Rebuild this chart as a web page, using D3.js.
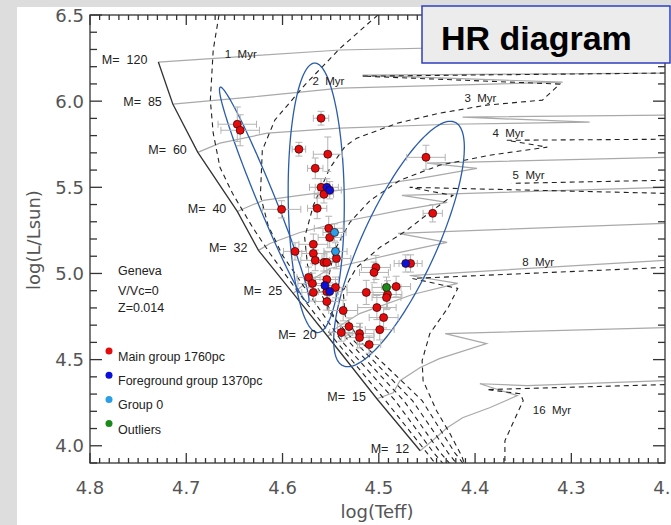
<!DOCTYPE html>
<html><head><meta charset="utf-8">
<script src="https://cdn.jsdelivr.net/npm/d3@7/dist/d3.min.js"></script>
<style>body{margin:0;background:#fff}svg{display:block}</style>
</head><body>
<svg id="c" width="671" height="525"></svg>
<script>
// ---------- DATA ----------
const xTickLabels = [4.8, 4.7, 4.6, 4.5, 4.4, 4.3, 4.2];
const yTickLabels = [4.0, 4.5, 5.0, 5.5, 6.0, 6.5];

// ZAMS points (logTeff, logL) and masses
const zams = [[4.729,6.227],[4.714,5.983],[4.688,5.703],[4.647,5.360],[4.625,5.134],[4.589,4.884],[4.553,4.634],[4.502,4.273],[4.457,3.971]];
const zamsMass = ["120","85","60","40","32","25","20","15","12"];

// evolutionary tracks
const track120 = [[4.729,6.227],[4.540,6.297],[4.203,6.337]];
const track85 = [[4.714,5.983],[4.623,6.029],[4.540,6.076],[4.309,6.110],[4.517,6.151],[4.203,6.163]];
const track60 = [[4.688,5.703],[4.665,5.756],[4.616,5.814],[4.540,5.843],[4.426,5.866],[4.281,5.878],[4.413,5.907],[4.203,5.919]];
const track40 = [[4.647,5.360],[4.637,5.384],[4.620,5.424],[4.582,5.453],[4.540,5.483],[4.457,5.552],[4.398,5.610],[4.450,5.640],[4.203,5.674]];
const track32 = [[4.625,5.134],[4.613,5.174],[4.582,5.238],[4.540,5.297],[4.478,5.366],[4.429,5.413],[4.476,5.453],[4.203,5.500]];
const track25 = [[4.589,4.884],[4.579,4.930],[4.551,5.029],[4.478,5.122],[4.429,5.180],[4.480,5.233],[4.203,5.291]];
const track20 = [[4.553,4.634],[4.545,4.680],[4.520,4.767],[4.465,4.878],[4.418,4.942],[4.468,4.988],[4.203,5.076]];
const track15 = [[4.502,4.273],[4.485,4.308],[4.478,4.378],[4.457,4.454],[4.437,4.506],[4.388,4.593],[4.431,4.651],[4.203,4.686]];
const track12 = [[4.457,3.971],[4.442,4.041],[4.429,4.105],[4.413,4.163],[4.385,4.221],[4.356,4.291],[4.395,4.360],[4.346,4.349],[4.203,4.378]];

// isochrones
const iso1 = [[4.666,6.500],[4.672,6.297],[4.675,6.006],[4.672,5.814],[4.665,5.616],[4.652,5.465],[4.631,5.267],[4.613,5.116],[4.585,4.901],[4.545,4.610],[4.493,4.262],[4.450,3.959],[4.441,3.895]];
const iso2 = [[4.501,6.500],[4.540,6.308],[4.577,6.093],[4.608,5.890],[4.621,5.715],[4.623,5.453],[4.615,5.279],[4.600,5.105],[4.575,4.901],[4.539,4.610],[4.483,4.262],[4.443,3.959],[4.433,3.895]];
const iso3 = [[4.203,6.163],[4.517,6.145],[4.312,6.099],[4.330,6.006],[4.388,5.977],[4.437,5.930],[4.481,5.872],[4.523,5.785],[4.535,5.738],[4.551,5.610],[4.568,5.395],[4.577,5.209],[4.574,5.047],[4.561,4.890],[4.532,4.610],[4.474,4.262],[4.436,3.959],[4.426,3.895]];
const iso4 = [[4.203,5.779],[4.367,5.773],[4.325,5.733],[4.385,5.686],[4.437,5.628],[4.478,5.541],[4.509,5.424],[4.530,5.297],[4.546,5.134],[4.553,4.959],[4.553,4.785],[4.526,4.610],[4.465,4.262],[4.428,3.959],[4.419,3.895]];
const iso5a = [[4.203,5.541],[4.362,5.523]];
const iso5 = [[4.203,5.465],[4.468,5.500],[4.423,5.453],[4.447,5.355],[4.471,5.250],[4.499,5.151],[4.523,5.035],[4.537,4.901],[4.535,4.756],[4.520,4.610],[4.455,4.262],[4.421,3.959],[4.412,3.895]];
const iso8 = [[4.203,5.035],[4.465,4.971],[4.418,4.913],[4.428,4.802],[4.447,4.651],[4.455,4.494],[4.454,4.378],[4.440,4.203],[4.426,4.070],[4.414,3.942],[4.411,3.895]];
const iso16 = [[4.203,4.355],[4.388,4.326],[4.353,4.302],[4.350,4.262],[4.361,4.128],[4.369,4.029],[4.369,3.895]];
const isoLabels = [["1 Myr",4.660,6.250],["2 Myr",4.569,6.093],["3 Myr",4.411,5.994],["4 Myr",4.382,5.791],["5 Myr",4.361,5.547],["8 Myr",4.351,5.041],["16 Myr",4.340,4.186]];

// selection ellipses: centre, half major-axis vector, half minor-axis vector (data units)
const ellipseCentres = [[4.619,5.456],[4.565,5.439],[4.479,5.171]];
const ellipseMajor = [[-0.0457,-0.625],[-0.0016,-0.782],[-0.0582,0.7064]];
const ellipseMinor = [[-0.0086,0.0198],[-0.0291,0.0017],[-0.0349,-0.0901]];

// stars: logTeff, logL, err logTeff, err logL
const mainGroup = [
[4.647,5.866,.02,.10],[4.644,5.831,.02,.09],[4.560,5.901,.008,.04],[4.583,5.721,.007,.04],
[4.553,5.692,.015,.10],[4.566,5.610,.008,.06],[4.560,5.500,.012,.05],[4.557,5.459,.01,.05],
[4.564,5.378,.01,.06],[4.601,5.372,.02,.05],[4.552,5.262,.015,.07],[4.551,5.209,.012,.06],
[4.568,5.169,.015,.06],[4.587,5.128,.012,.05],[4.568,5.116,.012,.06],[4.566,5.076,.015,.06],
[4.557,5.064,.012,.05],[4.554,5.064,.012,.06],[4.544,5.087,.015,.06],[4.573,4.977,.012,.06],
[4.554,4.965,.012,.05],[4.569,4.942,.015,.06],[4.554,4.895,.012,.06],[4.545,4.919,.012,.06],
[4.568,4.890,.012,.05],[4.554,4.837,.012,.05],[4.537,4.785,.015,.06],[4.531,4.692,.012,.05],
[4.539,4.657,.012,.05],[4.520,4.651,.015,.06],[4.520,4.628,.015,.06],[4.510,4.587,.012,.05],
[4.499,4.674,.015,.06],[4.503,5.035,.015,.07],[4.505,5.006,.015,.06],[4.467,5.058,.012,.05],
[4.482,4.924,.015,.06],[4.513,4.890,.02,.07],[4.491,4.878,.015,.08],[4.492,4.860,.015,.07],
[4.502,4.802,.02,.07],[4.495,4.744,.015,.06],[4.451,5.674,.02,.07],[4.444,5.349,.01,.05]];
const foreground = [[4.554,5.500,.012,.05],[4.551,5.483,.012,.05],[4.556,4.930,.012,.05],[4.551,4.895,.012,.05],[4.472,5.058,.012,.05]];
const group0 = [[4.546,5.238,.012,.05],[4.545,5.128,.012,.05]];
const outliers = [[4.492,4.919,.015,.06]];

const legendLabels = ["Main group 1760pc","Foreground group 1370pc","Group 0","Outliers"];
const modelLines = ["Geneva","V/Vc=0","Z=0.014"];
const titleText = "HR diagram";

// ---------- DRAW ----------
const svg = d3.select("#c");
const W = 671, H = 525;
const L = 90, R = 665, T = 15, B = 463;
const x = d3.scaleLinear().domain([4.8, 4.2027]).range([L, R]);
const y = d3.scaleLinear().domain([3.9, 6.5]).range([B, T]);

svg.append("rect").attr("width", W).attr("height", H).attr("fill", "#dddddd");
svg.append("rect").attr("x", 17).attr("y", 7).attr("width", W - 17).attr("height", H - 7).attr("fill", "#ffffff");

svg.append("clipPath").attr("id", "clip").append("rect").attr("x", L).attr("y", T).attr("width", R - L).attr("height", B - T);
const plot = svg.append("g").attr("clip-path", "url(#clip)");
const line = d3.line().x(d => x(d[0])).y(d => y(d[1]));

// tracks
[track120, track85, track60, track40, track32, track25, track20, track15, track12].forEach(t => {
  plot.append("path").attr("d", line(t)).attr("fill", "none").attr("stroke", "#a9a9a9").attr("stroke-width", 1.2);
});
// ZAMS
plot.append("path").attr("d", line(zams)).attr("fill", "none").attr("stroke", "#333").attr("stroke-width", 1.3);
// isochrones
[iso1, iso2, iso3, iso4, iso5a, iso5, iso8, iso16].forEach(t => {
  plot.append("path").attr("d", line(t)).attr("fill", "none").attr("stroke", "#222")
    .attr("stroke-width", 1.1).attr("stroke-dasharray", "5,4");
});
// ellipses
ellipseCentres.forEach((c, i) => {
  const a = ellipseMajor[i], b = ellipseMinor[i];
  const pts = d3.range(0, 2 * Math.PI + 0.001, Math.PI / 90).map(t =>
    [c[0] + a[0] * Math.cos(t) + b[0] * Math.sin(t), c[1] + a[1] * Math.cos(t) + b[1] * Math.sin(t)]);
  plot.append("path").attr("d", line(pts) + "Z").attr("fill", "none").attr("stroke", "#2a5caa").attr("stroke-width", 1.3);
});

// error bars
const groups = [[mainGroup, "#e30b0b"], [foreground, "#0a10d8"], [group0, "#2a9ee6"], [outliers, "#1a8a1a"]];
const eb = plot.append("g").attr("stroke", "#b4b4b4").attr("stroke-width", 1);
groups.forEach(([arr]) => arr.forEach(d => {
  const cx = x(d[0]), cy = y(d[1]);
  const x1 = x(d[0] - d[2]), x2 = x(d[0] + d[2]);
  const y1 = y(d[1] - d[3]), y2 = y(d[1] + d[3]);
  eb.append("line").attr("x1", x1).attr("x2", x2).attr("y1", cy).attr("y2", cy);
  eb.append("line").attr("x1", cx).attr("x2", cx).attr("y1", y1).attr("y2", y2);
  [x1, x2].forEach(v => eb.append("line").attr("x1", v).attr("x2", v).attr("y1", cy - 3.5).attr("y2", cy + 3.5));
  [y1, y2].forEach(v => eb.append("line").attr("x1", cx - 3.5).attr("x2", cx + 3.5).attr("y1", v).attr("y2", v));
}));
groups.forEach(([arr, col]) => {
  plot.append("g").selectAll("circle").data(arr).join("circle")
    .attr("cx", d => x(d[0])).attr("cy", d => y(d[1])).attr("r", 4)
    .attr("fill", col).attr("stroke", "#300").attr("stroke-width", 0.7);
});

// labels
const lab = svg.append("g").attr("font-family", "Liberation Sans, Arial, sans-serif").attr("fill", "#222");
zams.forEach((d, i) => {
  lab.append("text").attr("x", x(d[0]) - 11).attr("y", y(d[1]) + 2).attr("text-anchor", "end")
    .attr("font-size", 12.5).style("white-space", "pre").text("M=  " + zamsMass[i]);
});
isoLabels.forEach(d => {
  lab.append("text").attr("x", x(d[1])).attr("y", y(d[2])).attr("font-size", 11.5).style("white-space", "pre")
    .text(d[0].replace(" ", "  "));
});
modelLines.forEach((t, i) => {
  lab.append("text").attr("x", 118).attr("y", [275, 295, 312][i]).attr("font-size", 12.5).text(t);
});
legendLabels.forEach((t, i) => {
  lab.append("circle").attr("cx", 109).attr("cy", 351 + 24.2 * i).attr("r", 3.5).attr("fill", groups[i][1]);
  lab.append("text").attr("x", 118).attr("y", 361 + 24.2 * i).attr("font-size", 12.5).text(t);
});

// frame and ticks
const ax = svg.append("g").attr("stroke", "#333").attr("stroke-width", 1.3);
ax.append("rect").attr("x", L).attr("y", T).attr("width", R - L).attr("height", B - T).attr("fill", "none");
const xMinor = d3.range(420, 481).map(v => v / 100).filter(v => x(v) >= L - 0.1 && x(v) <= R + 0.1);
const yMinor = d3.range(39, 66).map(v => v / 10);
xMinor.forEach(v => {
  const major = Math.abs(v * 10 - Math.round(v * 10)) < 1e-6;
  const len = major ? 10 : 5;
  ax.append("line").attr("x1", x(v)).attr("x2", x(v)).attr("y1", B).attr("y2", B - len);
  ax.append("line").attr("x1", x(v)).attr("x2", x(v)).attr("y1", T).attr("y2", T + len);
});
yMinor.forEach(v => {
  const major = Math.abs(v * 2 - Math.round(v * 2)) < 1e-6;
  const len = major ? 12 : 7;
  ax.append("line").attr("x1", L).attr("x2", L + len).attr("y1", y(v)).attr("y2", y(v));
  ax.append("line").attr("x1", R).attr("x2", R - len).attr("y1", y(v)).attr("y2", y(v));
});

const tl = svg.append("g").attr("font-family", "DejaVu Sans, sans-serif").attr("fill", "#555").attr("font-size", 18);
xTickLabels.forEach(v => tl.append("text").attr("x", x(v)).attr("y", 494).attr("text-anchor", "middle").text(v.toFixed(1)));
yTickLabels.forEach(v => tl.append("text").attr("x", 84).attr("y", y(v) + 6.5).attr("text-anchor", "end").text(v.toFixed(1)));
tl.append("text").attr("x", 377).attr("y", 518).attr("text-anchor", "middle").text("log(Teff)");
tl.append("text").attr("transform", "translate(40,240) rotate(-90)").attr("text-anchor", "middle").text("log(L/Lsun)");

// title box
svg.append("rect").attr("x", 422).attr("y", 6).attr("width", 248).attr("height", 57)
  .attr("fill", "#ececec").attr("stroke", "#2e3fbf").attr("stroke-width", 1.5);
svg.append("text").attr("x", 441).attr("y", 50).attr("font-family", "Liberation Sans, Arial, sans-serif")
  .attr("font-weight", "bold").attr("font-size", 34).attr("fill", "#000").text(titleText);
</script>
</body></html>
